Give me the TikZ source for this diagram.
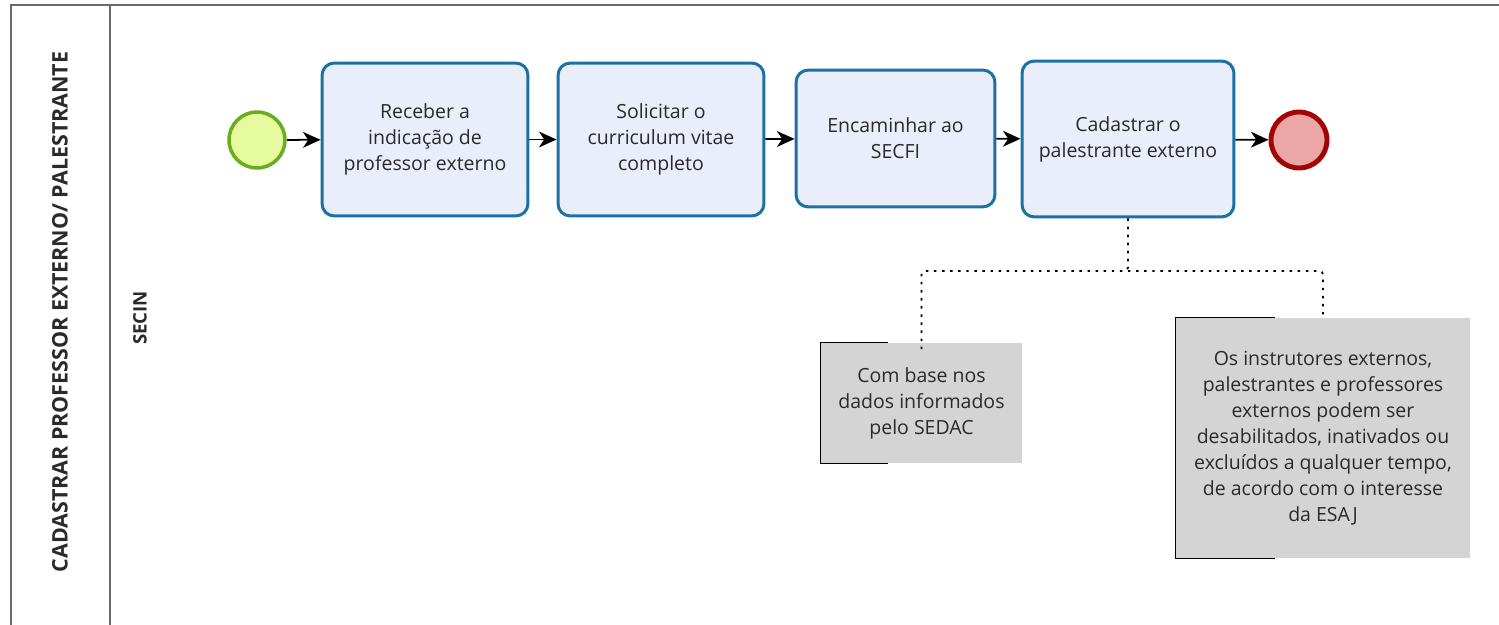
\documentclass[tikz,border=0pt]{standalone}
\usepackage{fontspec}
\setmainfont{Open Sans}
\usetikzlibrary{arrows.meta}

\definecolor{taskfill}{HTML}{EAEEFB}
\definecolor{taskline}{HTML}{1B70A4}
\definecolor{startfill}{HTML}{E6FA9E}
\definecolor{startline}{HTML}{68AE22}
\definecolor{endfill}{HTML}{EBA6A6}
\definecolor{endline}{HTML}{A30404}
\definecolor{notefill}{HTML}{D4D4D4}
\definecolor{txtgray}{HTML}{2A2A2A}
\definecolor{poolgray}{HTML}{6A6A6A}

\tikzset{
	task/.style={draw=taskline, fill=taskfill, line width=1.7pt, rounded corners=7pt,
		align=center, text=txtgray, font=\fontsize{11.1}{14.8}\selectfont,
		inner sep=0pt},
	note/.style={fill=notefill, align=center, text=txtgray,
		font=\fontsize{11.1}{14.8}\selectfont, inner sep=0pt},
	flow/.style={-{Stealth[length=10pt,width=9pt,inset=3pt]}, line width=1pt},
	assoc/.style={line width=1pt, dash pattern=on 1.4pt off 3.2pt, rounded corners=2pt},
	pool/.style={draw=poolgray, line width=1pt}
}

\begin{document}
\begin{tikzpicture}[x=0.02cm, y=-0.02cm]
\useasboundingbox (0, 0) rectangle (1499, 625);

%pool and lane
\draw[pool] (11, 625) -- (11, 5) -- (1499, 5);
\draw[pool] (110, 5) -- (110, 625);
\node[rotate=90, text=txtgray, font=\bfseries\fontsize{12.2}{14}\selectfont] (poolname) at (60, 312)
	{CADASTRAR PROFESSOR EXTERNO/ PALESTRANTE};
\node[rotate=90, text=txtgray, font=\bfseries\fontsize{10.6}{13}\selectfont] (lane) at (140, 318) {SECIN};

%events
\node[circle, draw=startline, fill=startfill, line width=2pt, minimum size=1.12cm] (start) at (257, 140) {};
\node[circle, draw=endline, fill=endfill, line width=2.8pt, minimum size=1.12cm] (end) at (1299, 140) {};

%tasks
\node[task, minimum width=4.12cm, minimum height=3.06cm] (t1) at (425, 139.5)
	{Receber a\\indicação de\\professor externo};
\node[task, minimum width=4.12cm, minimum height=3.06cm] (t2) at (661, 139.5)
	{Solicitar o\\curriculum vitae\\completo};
\node[task, minimum width=3.98cm, minimum height=2.74cm] (t3) at (895.5, 138.5)
	{Encaminhar ao\\SECFI};
\node[task, minimum width=4.24cm, minimum height=3.12cm] (t4) at (1128, 139)
	{Cadastrar o\\palestrante externo};

\draw[flow] (start) -- (t1);
\draw[flow] (t1) -- (t2);
\draw[flow] (t2) -- (t3);
\draw[flow] (t3) -- (t4);
\draw[flow] (t4) -- (end);

%annotations
\node[note, minimum width=4.02cm, minimum height=2.4cm] (note1) at (921.5, 403)
	{Com base nos\\dados informados\\pelo SEDAC};
\node[note, minimum width=5.88cm, minimum height=4.8cm] (note2) at (1323, 438)
	{Os instrutores externos,\\palestrantes e professores\\externos podem ser\\desabilitados, inativados ou\\excluídos a qualquer tempo,\\de acordo com o interesse\\da ESAJ};
\draw[line width=0.9pt] ([xshift=1.34cm]note1.north west) -- (note1.north west)
	-- (note1.south west) -- ([xshift=1.34cm]note1.south west);
\draw[line width=0.9pt] ([xshift=1.98cm]note2.north west) -- (note2.north west)
	-- (note2.south west) -- ([xshift=1.98cm]note2.south west);

\coordinate (split) at (1128, 271);
\draw[assoc] (t4.south) -- (split) -| ([yshift=-0.16cm]note1.north);
\draw[assoc] (split) -| (note2.north);

\end{tikzpicture}
\end{document}
